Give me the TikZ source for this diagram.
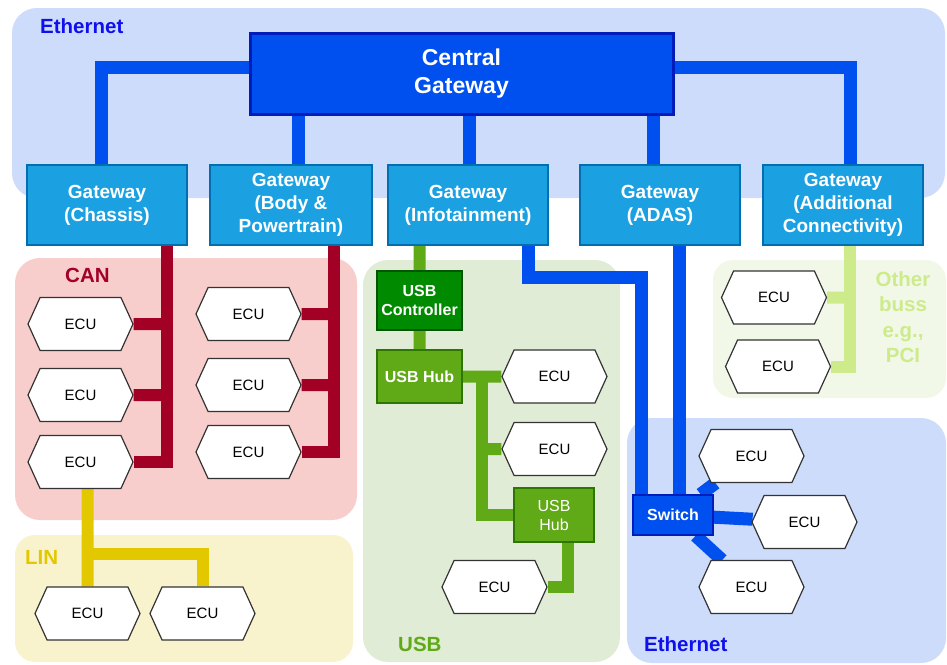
\documentclass[tikz,border=0pt]{standalone}
\usepackage{fontspec}
\setmainfont{Liberation Sans}
\usetikzlibrary{shapes.symbols}

\definecolor{ethbg}{HTML}{CCDCFA}
\definecolor{canbg}{HTML}{F8CECC}
\definecolor{linbg}{HTML}{F8F3CC}
\definecolor{usbbg}{HTML}{E0ECD5}
\definecolor{othbg}{HTML}{F2F8E8}
\definecolor{ethblue}{HTML}{0050EF}
\definecolor{ethdark}{HTML}{001DBC}
\definecolor{gwblue}{HTML}{1BA1E2}
\definecolor{gwdark}{HTML}{006EAF}
\definecolor{canred}{HTML}{A20025}
\definecolor{linyellow}{HTML}{E3C800}
\definecolor{usbgreen}{HTML}{60A917}
\definecolor{usbdark}{HTML}{2D7600}
\definecolor{ctrlgreen}{HTML}{008A00}
\definecolor{ctrldark}{HTML}{005700}
\definecolor{othgreen}{HTML}{CDEB8B}
\definecolor{ethlabel}{HTML}{1010EE}

\pgfdeclarelayer{bg}
\pgfdeclarelayer{wires}
\pgfsetlayers{bg,wires,main}

\begin{document}
\begin{tikzpicture}[x=1pt,y=-1pt,
    area/.style={rounded corners=25pt},
    buslabel/.style={anchor=west,inner sep=0pt,font=\fontsize{20.5}{25}\selectfont\bfseries},
    box/.style={rectangle,inner sep=0pt,text=white,align=center},
    gw/.style={box,draw=gwdark,fill=gwblue,line width=2pt,minimum width=160pt,minimum height=80pt,
      font=\fontsize{19}{23}\selectfont\bfseries},
    ecu/.style={signal,signal to=west and east,signal pointer angle=131,draw=black!80,fill=white,
      line width=1.2pt,minimum width=105pt,minimum height=53pt,inner sep=0pt,font=\fontsize{15}{18}\selectfont},
    usbbox/.style={box,draw=usbdark,fill=usbgreen,line width=1.5pt,minimum width=85pt,minimum height=53pt,
      font=\fontsize{16}{19}\selectfont},
    ethwire/.style={ethblue,line width=13pt},
    canwire/.style={canred,line width=12pt},
    linwire/.style={linyellow,line width=12pt},
    usbwire/.style={usbgreen,line width=12pt},
    othwire/.style={othgreen,line width=12pt}]
  \useasboundingbox (0,0) rectangle (947,664);

  \begin{pgfonlayer}{bg}
    \fill[ethbg,area] (12,8) rectangle (945,198);
    \fill[canbg,area] (15,258) rectangle (357,520);
    \fill[linbg,area,rounded corners=20pt] (15,535) rectangle (353,662);
    \fill[usbbg,area] (363,260) rectangle (620,662);
    \fill[othbg,area,rounded corners=20pt] (713,260) rectangle (946,398);
    \fill[ethbg,area] (627,418) rectangle (946,663);
  \end{pgfonlayer}

  \node[buslabel,text=ethlabel] (ethtop) at (40,26) {Ethernet};
  \node[buslabel,text=canred] (canlab) at (65,275) {CAN};
  \node[buslabel,text=linyellow] (linlab) at (25,557) {LIN};
  \node[buslabel,text=usbgreen] (usblab) at (398,644) {USB};
  \node[buslabel,text=ethlabel] (ethbot) at (644,644) {Ethernet};
  \node[align=center,inner sep=0pt,text=othgreen,font=\fontsize{20.5}{25.5}\selectfont\bfseries] (othlab) at (903,317)
    {Other\\buss\\e.g.,\\PCI};

  \node[box,draw=ethdark,fill=ethblue,line width=3pt,minimum width=423pt,minimum height=81pt,
    font=\fontsize{23}{28}\selectfont\bfseries] (cgw) at (461.5,73.5) {Central\\Gateway};
  \node[gw] (gwc) at (107,205) {Gateway\\(Chassis)};
  \node[gw,minimum width=162pt] (gwb) at (291,205) {Gateway\\(Body \&\\Powertrain)};
  \node[gw] (gwi) at (468,205) {Gateway\\(Infotainment)};
  \node[gw] (gwa) at (660,205) {Gateway\\(ADAS)};
  \node[gw] (gwx) at (843,205) {Gateway\\(Additional\\Connectivity)};

  % CAN
  \node[ecu] (can1) at (80.5,324) {ECU};
  \node[ecu] (can2) at (80.5,395) {ECU};
  \node[ecu] (can3) at (80.5,462) {ECU};
  \node[ecu] (can4) at (248.5,314) {ECU};
  \node[ecu] (can5) at (248.5,385) {ECU};
  \node[ecu] (can6) at (248.5,452) {ECU};
  \coordinate (canbus1) at (167,205);
  \coordinate (canbus2) at (334,205);

  % LIN
  \node[ecu] (lin1) at (87.5,613.5) {ECU};
  \node[ecu] (lin2) at (202.5,613.5) {ECU};
  \coordinate (linbus) at (88,554);

  % USB
  \node[box,draw=ctrldark,fill=ctrlgreen,line width=1.5pt,minimum width=85pt,minimum height=59pt,
    font=\fontsize{16}{19}\selectfont\bfseries] (ctrl) at (419.5,300.5) {USB\\Controller};
  \node[usbbox,font=\fontsize{16}{19}\selectfont\bfseries] (hub1) at (419.5,376.5) {USB Hub};
  \node[usbbox,minimum width=80pt,minimum height=54pt] (hub2) at (554,515) {USB\\Hub};
  \node[ecu] (usb1) at (554.5,376.5) {ECU};
  \node[ecu] (usb2) at (554.5,449) {ECU};
  \node[ecu] (usb3) at (494.5,587) {ECU};
  \coordinate (usbbus) at (482,377);

  % Ethernet
  \node[box,draw=ethdark,fill=ethblue,line width=1.5pt,minimum width=80pt,minimum height=40pt,
    font=\fontsize{16}{19}\selectfont\bfseries] (sw) at (673,515) {Switch};
  \node[ecu] (eth1) at (751.5,456) {ECU};
  \node[ecu] (eth2) at (804.5,522) {ECU};
  \node[ecu] (eth3) at (751.5,587) {ECU};
  \coordinate (ethbend) at (641,277);

  % other bus
  \node[ecu] (oth1) at (774,297.5) {ECU};
  \node[ecu] (oth2) at (778,366.5) {ECU};
  \coordinate (othbus) at (850,205);

  \begin{pgfonlayer}{wires}
    \draw[ethwire] ([yshift=6.5pt]cgw.center) -| ([xshift=-6pt]gwc.center);
    \draw[ethwire] ([yshift=6.5pt]cgw.center) -| ([xshift=7pt]gwx.center);
    \draw[ethwire] ([xshift=7pt]gwb.center) -- ([xshift=7pt]gwb.center |- cgw);
    \draw[ethwire] ([xshift=1pt]gwi.center) -- ([xshift=1pt]gwi.center |- cgw);
    \draw[ethwire] ([xshift=-7pt]gwa.center) -- ([xshift=-7pt]gwa.center |- cgw);
    \draw[ethwire] ([xshift=60pt]gwi.center) |- (ethbend) -- (ethbend |- sw);
    \draw[ethwire] ([xshift=6pt]sw.center) -- ([xshift=6pt]sw.center |- gwa);
    \draw[ethwire] (sw) -- (eth1);
    \draw[ethwire] (sw) -- (eth2);
    \draw[ethwire] (sw) -- (eth3);
    \draw[canwire] (canbus1) |- (can3);
    \draw[canwire] (can1) -- (can1 -| canbus1);
    \draw[canwire] (can2) -- (can2 -| canbus1);
    \draw[canwire] (canbus2) |- (can6);
    \draw[canwire] (can4) -- (can4 -| canbus2);
    \draw[canwire] (can5) -- (can5 -| canbus2);
    \draw[linwire] (lin1 |- can3) -- (lin1);
    \draw[linwire] (linbus) -| (lin2);
    \draw[usbwire] (ctrl |- gwi) -- (ctrl) -- (hub1) -- (usb1);
    \draw[usbwire] (usbbus) |- (hub2);
    \draw[usbwire] (usb2) -- (usb2 -| usbbus);
    \draw[usbwire] ([xshift=14pt]hub2.center) |- (usb3);
    \draw[othwire] (othbus) |- (oth2);
    \draw[othwire] (oth1) -- (oth1 -| othbus);
  \end{pgfonlayer}
\end{tikzpicture}
\end{document}
